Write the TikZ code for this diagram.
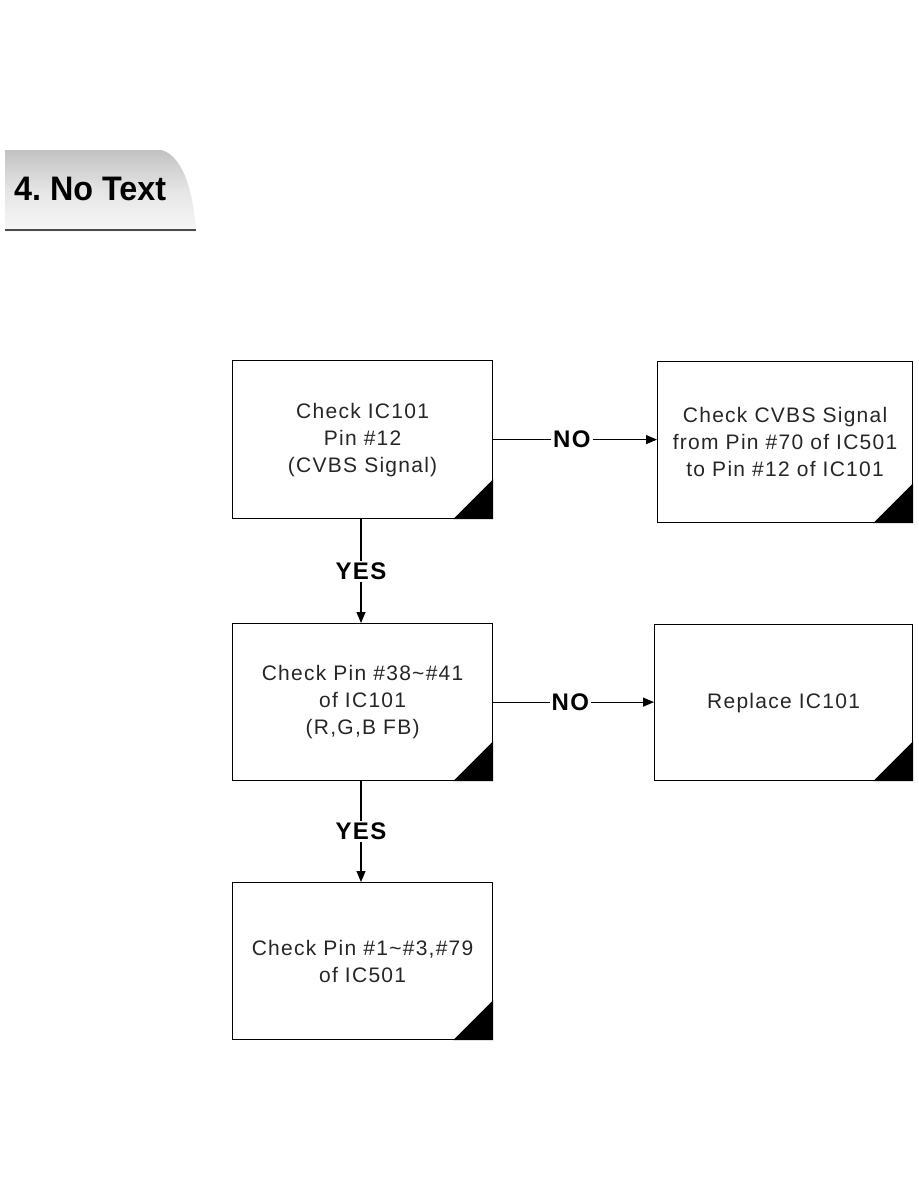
\documentclass[tikz,border=0pt]{standalone}
\usepackage{fontspec}
\setmainfont{Liberation Sans}
\newfontfamily\boxfont[LetterSpace=6]{Liberation Sans}
\newfontfamily\lblfont[LetterSpace=6]{Liberation Sans}
\usetikzlibrary{arrows.meta}
\begin{document}
\begin{tikzpicture}[x=1pt,y=-1pt,
  box/.style={draw=black,line width=1.2pt,minimum width=260pt,minimum height=158pt,inner sep=0pt,align=center,font=\boxfont\fontsize{21}{27}\selectfont,text=black!85,anchor=north west},
  lbl/.style={fill=white,inner sep=2pt,font=\lblfont\fontsize{24}{26}\selectfont\bfseries},
  conn/.style={line width=1.1pt,-{Triangle[length=11pt,width=9pt]}}]
\useasboundingbox (0,0) rectangle (918,1188);
% header tab
\shade[top color=black!24,bottom color=black!3,middle color=black!10]
  (5,150) -- (162,150) .. controls (186,158) and (194,200) .. (196,232) -- (5,232) -- cycle;
\draw[black!70,line width=2pt] (5,230) -- (196,230);
\node[font=\fontsize{34}{36}\selectfont\bfseries\frenchspacing,anchor=west,inner sep=0pt,xscale=0.95] (hdr) at (14,189) {4. No Text};
% boxes
\node[box] (b1) at (232,360) {Check IC101\\Pin \#12\\(CVBS Signal)};
\node[box,minimum width=255pt,minimum height=161pt] (b2) at (657,361) {Check CVBS Signal\\from Pin \#70 of IC501\\to Pin \#12 of IC101};
\node[box,minimum height=157pt] (b3) at (232,623) {Check Pin \#38\textasciitilde\#41\\of IC101\\(R,G,B FB)};
\node[box,minimum width=258pt,minimum height=156pt] (b4) at (654,624) {Replace IC101};
\node[box,minimum height=157pt] (b5) at (232,882) {Check Pin \#1\textasciitilde\#3,\#79\\of IC501};
% corner triangles
\foreach \b in {b1,b2,b3,b4,b5}{
  \fill ([shift={(-40pt,0)}]\b.south east) -- (\b.south east) -- ([shift={(0,40pt)}]\b.south east) -- cycle;
}
% connectors
\draw[conn] (b1.east) -- (b1.east -| b2.west) node[lbl,pos=0.48] (n1) {NO};
\draw[conn] (b3.east) -- (b3.east -| b4.west) node[lbl,pos=0.48] (n2) {NO};
\draw[conn] (b1.south -| 361,0) -- (b3.north -| 361,0) node[lbl,midway] (y1) {YES};
\draw[conn] (b3.south -| 361,0) -- (b5.north -| 361,0) node[lbl,midway] (y2) {YES};
\end{tikzpicture}
\end{document}
